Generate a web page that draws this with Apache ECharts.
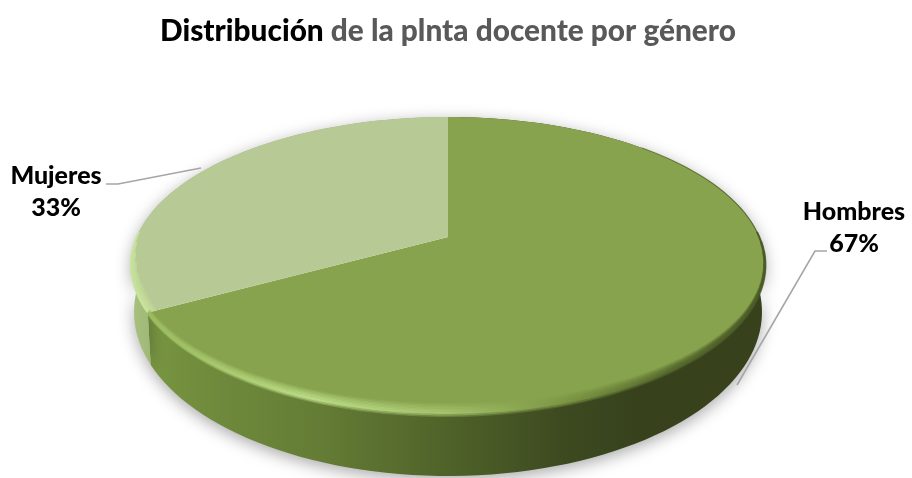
<!DOCTYPE html>
<html>
<head>
<meta charset="utf-8">
<style>
  html, body { margin: 0; padding: 0; background: #fff; }
  #chart { width: 912px; height: 478px; }
</style>
</head>
<body>
<div id="chart"></div>
<script src="https://cdn.jsdelivr.net/npm/echarts@6/dist/echarts.min.js"></script>
<script>
const categories = ['Hombres', 'Mujeres'];
const values = [67, 33];
const titleStrong = 'Distribución';
const titleRest = ' de la plnta docente por género';

const font = 'Lato, "Open Sans", sans-serif';
// ellipses of the top face and of the base of the disc
const topFace = { cx: 448, cy: 265, rx: 317, ry: 148 };
const base = { cx: 448, cy: 312, rx: 314, ry: 164 };
// perspective: moves the circle centre up to the apex of the slices
const k = -0.19;

const total = values.reduce((a, b) => a + b, 0);

function project(e, deg, sx, sy) {
  const t = deg * Math.PI / 180;
  const u = Math.sin(t);
  const v = -Math.cos(t);
  const w = 1 + k * v;
  const x = u * Math.sqrt(1 - k * k) / w;
  const y = (v + k) / w;
  return [e.cx + x * e.rx * (sx || 1), e.cy + y * e.ry * (sy || 1)];
}

function arc(e, from, to, sx, sy) {
  const pts = [];
  const n = Math.max(2, Math.ceil(Math.abs(to - from) / 2));
  for (let i = 0; i <= n; i++) {
    pts.push(project(e, from + (to - from) * i / n, sx, sy));
  }
  return pts;
}

function hGrad(stops) {
  return new echarts.graphic.LinearGradient(131, 0, 765, 0, stops.map(s => ({ offset: s[0], color: s[1] })), true);
}

const sliceStyles = [
  {
    top: '#88a34d',
    rim: hGrad([[0, '#7c9a45'], [0.1, '#718d3d'], [0.3, '#647c35'], [0.5, '#4f6229'], [0.68, '#3d4a20'], [0.8, '#37421d'], [1, '#37421d']]),
    bevel: hGrad([[0, '#98b85c'], [0.1, '#a2c468'], [0.28, '#bddd88'], [0.5, '#a5c46c'], [0.7, '#76903f'], [0.85, '#56692d'], [1, '#4a5a26']]),
    bevelFrom: 88, bevelTo: null, kx: 0.001, ky: 0.01, firstRing: -2
  },
  {
    top: '#b7c994',
    rim: hGrad([[0, '#a8c17f'], [0.04, '#9cb672'], [1, '#9cb672']]),
    bevel: hGrad([[0, '#c8e49c'], [1, '#c8e49c']]),
    bevelFrom: null, bevelTo: 272, kx: 0.005, ky: 0.006, firstRing: 0
  }
];

const labelLayout = [
  { x: 854, y: 228, line: [[737, 385], [815, 251], [827, 251]] },
  { x: 56, y: 192, line: [[201, 168], [118, 184], [106, 184]] }
];

function renderSlice(params, api) {
  const i = params.dataIndex;
  let before = 0;
  for (let j = 0; j < i; j++) before += values[j];
  const start = before / total * 360;
  const end = (before + api.value(1)) / total * 360;
  const st = sliceStyles[i];
  const apex = [topFace.cx, topFace.cy + k * topFace.ry];

  const children = [];
  // side wall
  children.push({
    type: 'polygon',
    z2: 1,
    shape: { points: arc(topFace, start, end).concat(arc(base, end, start)) },
    style: { fill: st.rim, shadowColor: 'rgba(0,0,0,0.34)', shadowBlur: 16, shadowOffsetY: 4 }
  });
  // top face
  children.push({
    type: 'polygon',
    z2: 5,
    shape: { points: [apex].concat(arc(topFace, start, end)) },
    style: { fill: st.top }
  });
  // thin dark rim along the far right edge of the face
  if (i === 0) {
    children.push({
      type: 'polyline',
      z2: 6,
      shape: { points: arc(topFace, 45, 92) },
      style: { fill: null, stroke: st.bevel, lineWidth: 1.2, opacity: 0.7 }
    });
  }
  // soft edge where the top face turns into the wall
  const rings = 7;
  for (let r = st.firstRing; r < rings; r++) {
    const fade = r < 0 ? 1 + r / 3 : 1 - r / rings;
    const creep = Math.abs(r) * 4;
    const from = st.bevelFrom === null ? start : st.bevelFrom + creep;
    const to = st.bevelTo === null ? end : st.bevelTo - creep;
    children.push({
      type: 'polyline',
      z2: 8 + r,
      shape: { points: arc(topFace, from, to, 1 - r * st.kx, 1 - r * st.ky) },
      style: { fill: null, stroke: st.bevel, lineWidth: 2, opacity: 0.95 * fade }
    });
  }
  // leader line and label
  const lab = labelLayout[i];
  children.push({
    type: 'polyline',
    z2: 20,
    shape: { points: lab.line },
    style: { fill: null, stroke: '#a6a6a6', lineWidth: 1.6 }
  });
  children.push({
    type: 'text',
    z2: 21,
    style: {
      x: lab.x,
      y: lab.y,
      text: categories[i] + '\n' + api.value(1) + '%',
      align: 'center',
      verticalAlign: 'middle',
      fill: '#000',
      font: '900 25px ' + font,
      lineHeight: 32
    }
  });
  return { type: 'group', children: children };
}

const myChart = echarts.init(document.getElementById('chart'), null, { renderer: 'canvas' });
myChart.setOption({
  animation: false,
  backgroundColor: '#fff',
  title: {
    left: 155,
    top: 11,
    text: '{a|' + titleStrong + '}{b|' + titleRest + '}',
    textStyle: {
      rich: {
        a: { fontFamily: font, fontSize: 29.8, fontWeight: 900, color: '#000' },
        b: { fontFamily: font, fontSize: 29.8, fontWeight: 900, color: '#595959' }
      }
    }
  },
  series: [{
    type: 'custom',
    coordinateSystem: 'none',
    silent: true,
    renderItem: renderSlice,
    data: categories.map((c, i) => ({ name: c, value: [i, values[i]] }))
  }]
});
window.addEventListener('resize', function () {
  myChart.resize();
});
</script>
</body>
</html>
